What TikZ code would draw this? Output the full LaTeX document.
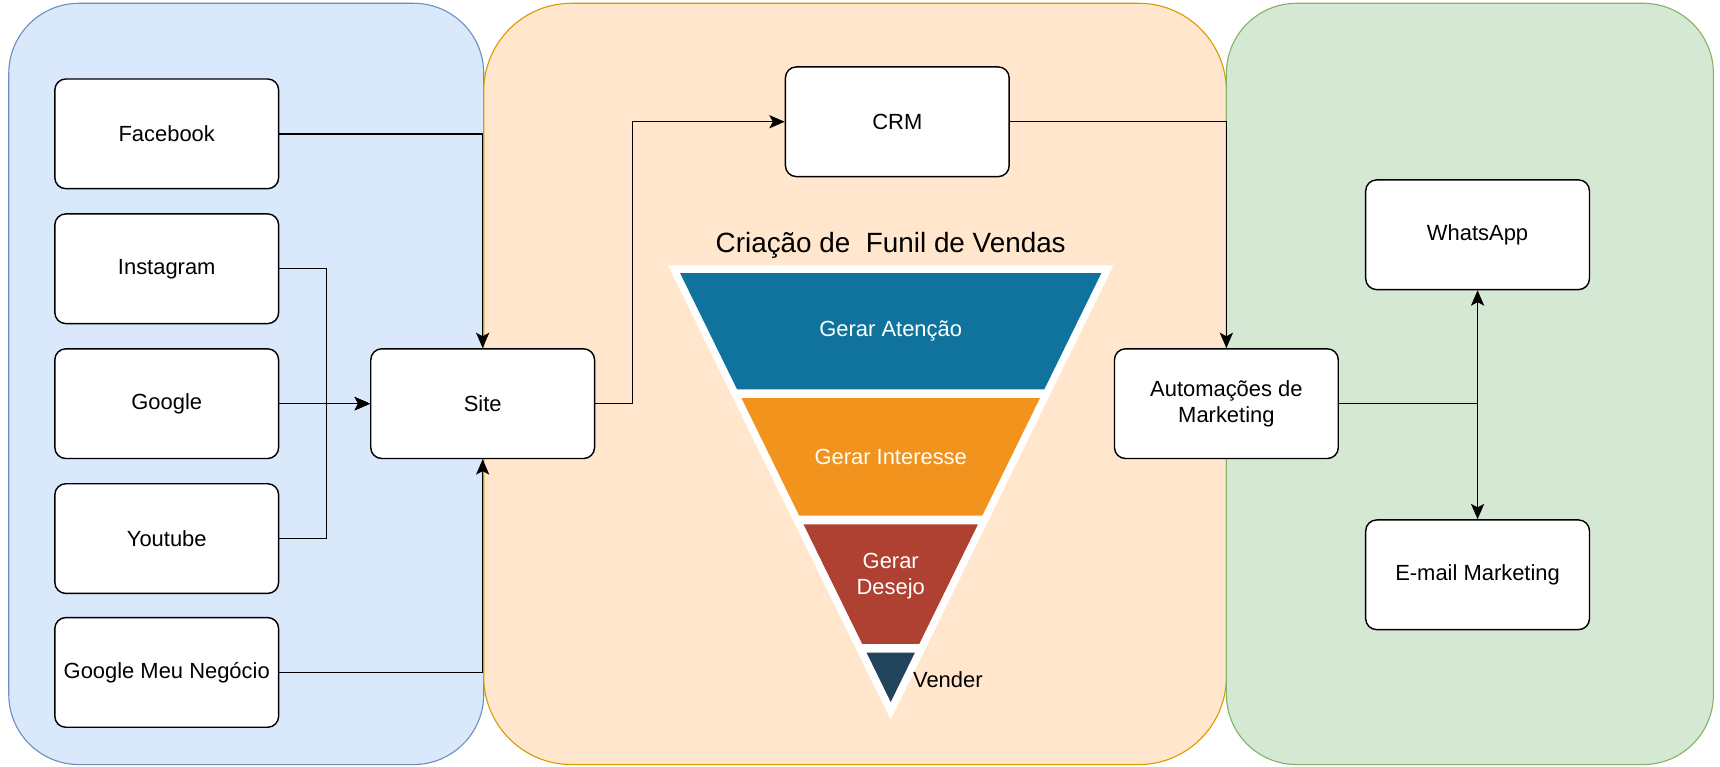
\documentclass[tikz,border=0pt]{standalone}
\usepackage{fontspec}
\setmainfont{Liberation Sans}
\usetikzlibrary{arrows.meta}
\definecolor{bluefill}{HTML}{DAE8FC}
\definecolor{bluedraw}{HTML}{6C8EBF}
\definecolor{orangefill}{HTML}{FFE6CC}
\definecolor{orangedraw}{HTML}{D79B00}
\definecolor{greenfill}{HTML}{D5E8D4}
\definecolor{greendraw}{HTML}{82B366}
\definecolor{funA}{HTML}{10739E}
\definecolor{funB}{HTML}{F2931E}
\definecolor{funC}{HTML}{AE4132}
\definecolor{funD}{HTML}{23445D}
\begin{document}
\begin{tikzpicture}[x=0.5pt,y=-0.5pt,
  box/.style={draw=black, line width=0.65pt, fill=white, rounded corners=5pt,
    minimum width=102pt, minimum height=50pt, inner sep=0pt, align=center,
    font=\fontsize{10}{12}\selectfont},
  arr/.style={draw=black, line width=0.65pt, -{Stealth[length=7pt,width=6pt,inset=1.6pt]}},
  panel/.style={line width=0.5pt},
  funtext/.style={text=white, align=center, font=\fontsize{10}{12}\selectfont},
]
\useasboundingbox (0,0) rectangle (1568,699);
% panels
\draw[panel, fill=bluefill, draw=bluedraw, rounded corners=32pt] (8,3) rectangle (441,697);
\draw[panel, fill=orangefill, draw=orangedraw, rounded corners=40pt] (441,3) rectangle (1118,697);
\draw[panel, fill=greenfill, draw=greendraw, rounded corners=32pt] (1118,3) rectangle (1562,697);

% boxes
\node[box] (fb) at (152,122) {Facebook};
\node[box] (insta) at (152,245) {Instagram};
\node[box] (google) at (152,368) {Google};
\node[box] (yt) at (152,491) {Youtube};
\node[box] (gmn) at (152,613) {Google Meu Negócio};
\node[box] (site) at (440,368) {Site};
\node[box] (crm) at (818,111) {CRM};
\node[box] (auto) at (1118,368) {Automações de\\Marketing};
\node[box] (wa) at (1347,214) {WhatsApp};
\node[box] (email) at (1347,524) {E-mail Marketing};

% connectors
\draw[arr] (fb.east) -| (site.north);
\draw[arr] (insta.east) -- ++(43,0) |- (site.west);
\draw[arr] (google.east) -- (site.west);
\draw[arr] (yt.east) -- ++(43,0) |- (site.west);
\draw[arr] (gmn.east) -| (site.south);
\draw[arr] (site.east) -- ++(34,0) |- (crm.west);
\draw[arr] (crm.east) -| (auto.north);
\draw[arr] (auto.east) -| (wa.south);
\draw[arr] (auto.east) -| (email.north);

% funnel
\node[font=\fontsize{12.7}{15}\selectfont] (title) at (812,224) {Criação de\ \ Funil de Vendas};
\fill[white] (609,242) -- (1015,242) -- (812,656) -- cycle;
\fill[funA] (620,249) -- (1004,249) -- (952,355) -- (672,355) -- cycle;
\fill[funB] (676,363) -- (948,363) -- (895.5,470) -- (728.5,470) -- cycle;
\fill[funC] (732.5,478) -- (891.5,478) -- (838,587) -- (786,587) -- cycle;
\fill[funD] (790,595) -- (834,595) -- (812,640) -- cycle;
\node[funtext] (t1) at (812,302) {Gerar Atenção};
\node[funtext] (t2) at (812,417) {Gerar Interesse};
\node[funtext] (t3) at (812,525) {Gerar\\Desejo};
\node[anchor=west, inner sep=0pt, font=\fontsize{10}{12}\selectfont] (t4) at (832,620) {Vender};
\end{tikzpicture}
\end{document}
